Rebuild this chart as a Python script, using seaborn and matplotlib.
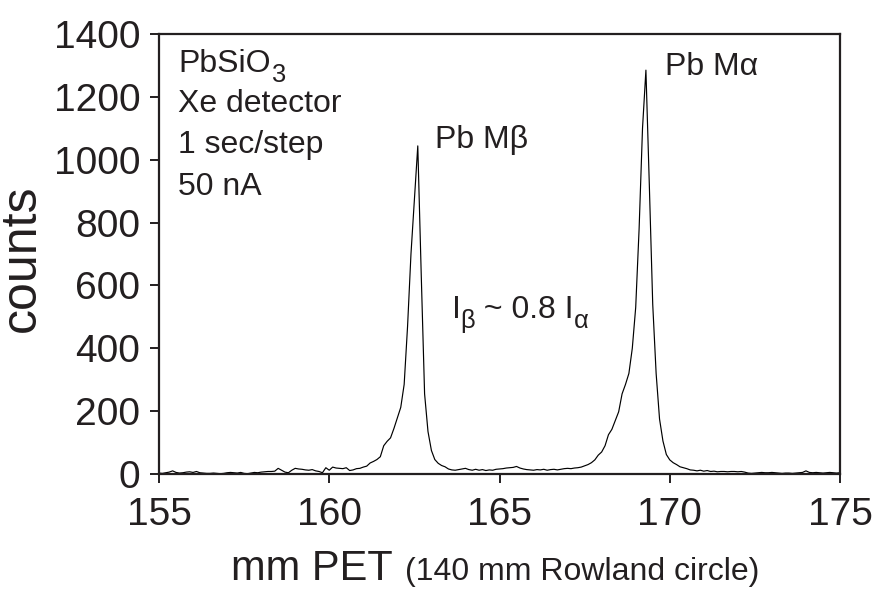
import numpy as np
import pandas as pd
import matplotlib
matplotlib.use("Agg")
import matplotlib.pyplot as plt
import seaborn as sns

# ---- data ----
scan_start_mm = 155.0
scan_step_mm = 0.1
counts = [
    3, 2, 4, 6, 10, 5, 3, 4, 6, 7,            # 155.0-155.9
    5, 8, 4, 3, 2, 2, 3, 2, 1, 2,             # 156
    4, 5, 4, 3, 5, 2, 1, 3, 5, 4,             # 157
    6, 7, 8, 8, 9, 18, 12, 6, 4, 12,          # 158
    18, 16, 15, 13, 12, 14, 10, 8, 4, 20,     # 159
    12, 22, 19, 18, 17, 20, 11, 13, 17, 18,   # 160
    22, 25, 35, 40, 46, 55, 90, 104, 115, 145,  # 161
    178, 212, 285, 470, 700, 872, 1044, 640, 255, 135,  # 162
    75, 46, 34, 27, 23, 16, 13, 12, 14, 16,   # 163
    18, 14, 12, 15, 12, 14, 11, 13, 12, 15,   # 164
    16, 17, 19, 20, 21, 24, 19, 16, 14, 13,   # 165
    12, 14, 13, 15, 12, 14, 15, 13, 15, 17,   # 166
    18, 17, 19, 20, 22, 26, 30, 36, 45, 60,   # 167
    70, 90, 125, 142, 170, 198, 255, 285, 320, 400,  # 168
    530, 780, 1100, 1285, 920, 540, 320, 175, 105, 62,  # 169
    45, 36, 30, 23, 20, 17, 13, 12, 10, 12,   # 170
    9, 11, 8, 9, 7, 8, 8, 7, 8, 8,            # 171
    7, 8, 6, 3, 2, 3, 4, 5, 4, 4,             # 172
    5, 4, 3, 2, 3, 3, 2, 3, 4, 5,             # 173
    10, 5, 4, 5, 4, 3, 4, 5, 4, 3,            # 174
    4,                                        # 175.0
]
x_ticks = [155, 160, 165, 170, 175]
y_ticks = [0, 200, 400, 600, 800, 1000, 1200, 1400]

positions = scan_start_mm + scan_step_mm * np.arange(len(counts))
df = pd.DataFrame({"mm": positions, "counts": counts})

# ---- style ----
sns.set_style("ticks")
plt.rcParams["font.family"] = ["Liberation Sans", "DejaVu Sans"]
TXT = "#231f20"
plt.rcParams["text.color"] = TXT

DPI = 100
fig = plt.figure(figsize=(8.85, 5.93), dpi=DPI)
ax = fig.add_axes([159 / 885, 1 - 474 / 593, (840 - 159) / 885, (474 - 34) / 593])

sns.lineplot(data=df, x="mm", y="counts", ax=ax, color="black", linewidth=0.85)

ax.set_xlim(155, 175)
ax.set_ylim(0, 1400)
ax.set_xticks(x_ticks)
ax.set_yticks(y_ticks)
ax.tick_params(axis="both", direction="out", length=6.5, width=1.4,
               labelsize=28, colors=TXT, pad=7)
ax.tick_params(axis="x", pad=10)
for s in ax.spines.values():
    s.set_linewidth(1.6)
    s.set_color(TXT)
    s.set_visible(True)
ax.set_xlabel("")
ax.set_ylabel("")

renderer = fig.canvas.get_renderer()


def rich_text(x, y, parts, fontsize):
    """parts: list of (string, is_subscript); drawn left to right from (x, y) data."""
    dx = 0.0
    for s, sub in parts:
        fs = fontsize * (0.8 if sub else 1.0)
        dy = -0.32 * fontsize if sub else 0.0
        t = ax.annotate(s, xy=(x, y), xycoords="data", xytext=(dx, dy),
                        textcoords="offset points", fontsize=fs,
                        va="baseline", ha="left", color=TXT)
        w = t.get_window_extent(renderer).width * 72.0 / DPI
        dx += w


FS = 23
rich_text(155.56, 1279, [("PbSiO", False), ("3", True)], FS)
for txt, yv in zip(["Xe detector", "1 sec/step", "50 nA"], [1152, 1021, 888]):
    ax.text(155.56, yv, txt, fontsize=FS, va="baseline", ha="left")
ax.text(163.1, 1037, "Pb Mβ", fontsize=FS, va="baseline", ha="left")
ax.text(169.86, 1270, "Pb Mα", fontsize=FS, va="baseline", ha="left")
rich_text(163.6, 496, [("I", False), ("β", True), (" ~ 0.8 I", False), ("α", True)], FS)

# axis labels
fig.text(22 / 885, 1 - 258 / 593, "counts", rotation=90, fontsize=36,
         ha="center", va="center")
fig.text(231 / 885, 1 - 580 / 593, "mm PET", fontsize=30, ha="left", va="baseline")
fig.text(405 / 885, 1 - 580 / 593, "(140 mm Rowland circle)", fontsize=23,
         ha="left", va="baseline")

fig.savefig("out.png", dpi=DPI)
